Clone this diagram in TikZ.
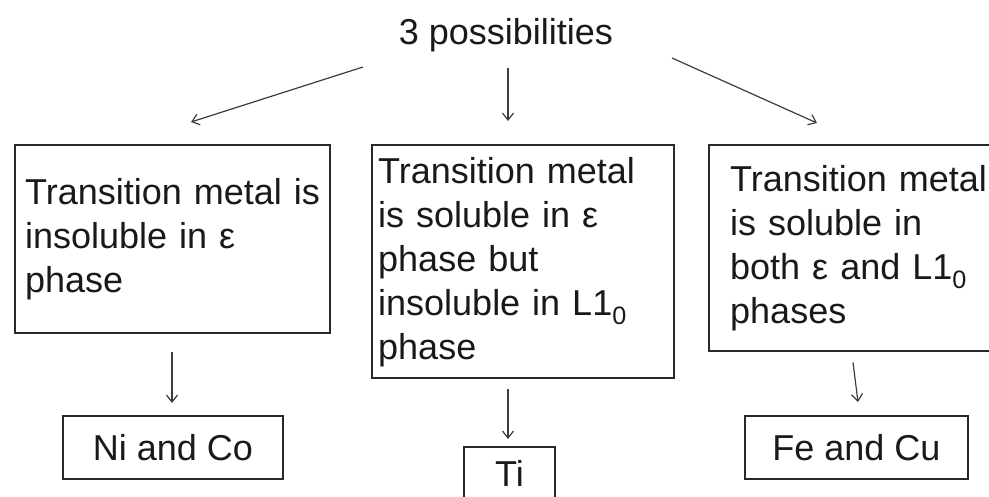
\documentclass[tikz,border=0pt]{standalone}
\usepackage{fontspec}
\setmainfont{Liberation Sans}
\usetikzlibrary{arrows.meta}
\definecolor{boxline}{RGB}{40,40,40}
\definecolor{arrowgray}{RGB}{60,60,60}
\definecolor{inktext}{RGB}{25,25,25}

\begin{document}
\begin{tikzpicture}[x=1pt, y=-1pt,
    case/.style={draw=boxline, line width=2.4pt, anchor=north west, align=left,
                 inner xsep=10pt, inner ysep=0pt, text=inktext,
                 font=\fontsize{36}{44}\selectfont},
    metal/.style={draw=boxline, line width=2pt, anchor=north west,
                  minimum height=63pt, inner sep=0pt, text=inktext,
                  font=\fontsize{36}{44}\selectfont},
    link/.style={-{Straight Barb[length=7pt, width=11pt]}, line width=1.2pt, arrowgray}]
        \clip (0,0) rectangle (989,497);

        % Heading
        \node (poss) [anchor=base, text=inktext, font=\fontsize{36}{42}\selectfont]
            at (506,45) {3 possibilities};

        % The three cases
        \node (insol) [case, minimum width=315pt, minimum height=188pt, text width=295pt]
            at (14,144) {Transition metal is\\insoluble in ε\\phase};
        \node (part) [case, inner xsep=6pt, minimum width=302pt, minimum height=233pt, text width=290pt]
            at (371,144) {Transition metal\\is soluble in ε\\phase but\\insoluble in L1\textsubscript{0}\\phase};
        \node (sol) [case, inner xsep=21pt, minimum width=330pt, minimum height=206pt, text width=288pt]
            at (708,144) {Transition metal\\is soluble in\\both ε and L1\textsubscript{0}\\phases};

        % Elements
        \node (nico) [metal, minimum width=220pt] at (62,415) {Ni and Co};
        \node (ti) [metal, minimum width=91pt, minimum height=53pt] at (463,446) {Ti};
        \node (fecu) [metal, minimum width=223pt] at (744,415) {Fe and Cu};

        % Arrow ends
        \coordinate (tailL) at (363,67);
        \coordinate (headL) at (191,122);
        \coordinate (tailM) at (508,68);
        \coordinate (headM) at (508,121);
        \coordinate (tailR) at (672,58);
        \coordinate (headR) at (817,123);
        \coordinate (downL) at (172,403);
        \coordinate (downM) at (508,439);
        \coordinate (downR) at (858,402);

        \draw[link] (tailL) -- (headL);
        \draw[link] (tailM) -- (headM);
        \draw[link] (tailR) -- (headR);

        \draw[link] ([yshift=-18pt]insol.south -| downL) -- (downL);
        \draw[link] ([yshift=-10pt]part.south -| downM) -- (downM);
        \draw[link] ([xshift=-5pt, yshift=-10pt]sol.south -| downR) -- (downR);
\end{tikzpicture}
\end{document}
